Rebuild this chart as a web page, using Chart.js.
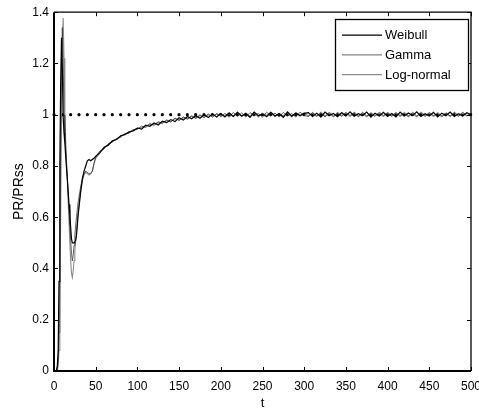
<!DOCTYPE html>
<html><head><meta charset="utf-8">
<script src="https://cdn.jsdelivr.net/npm/chart.js@4.4.1/dist/chart.umd.min.js"></script>
<style>html,body{margin:0;padding:0;background:#fff;} #wrap{width:479px;height:415px;position:relative;}</style>
</head><body><div id="wrap"><canvas id="c" width="479" height="415"></canvas></div>
<script>
const tValues = [0,1,2,3,4,5,6,7,8,9,10,11,12,13,14,15,16,17,18,19,20,21,22,23,24,25,26,27,28,29,30,
  32,34,36,38,40,42,44,46,48,50,
  55,60,65,70,75,80,85,90,95,100,105,110,115,120,125,130,135,140,145,150,155,160,165,170,175,180,185,190,195,200,
  205,210,215,220,225,230,235,240,245,250,255,260,265,270,275,280,285,290,295,300,
  305,310,315,320,325,330,335,340,345,350,355,360,365,370,375,380,385,390,395,400,
  405,410,415,420,425,430,435,440,445,450,455,460,465,470,475,480,485,490,495,500];

const weibull = [0,0,0,0.005,0.02,0.08,0.35,0.8,1.12,1.30,1.18,0.99,0.93,0.89,0.84,0.79,0.75,0.70,0.65,0.61,0.56,0.515,0.50,0.50,0.50,0.505,0.51,0.53,0.57,0.61,0.64,
  0.70,0.75,0.78,0.80,0.82,0.825,0.82,0.825,0.83,0.838,
  0.852,0.872,0.881,0.898,0.903,0.918,0.922,0.933,0.937,0.948,0.944,0.959,0.955,0.968,0.96,0.975,0.969,0.981,0.973,0.988,0.979,0.993,0.984,0.996,0.986,1.0,0.989,1.003,0.991,1.005,
  0.991,1.007,0.993,1.009,0.994,1.005,0.99,1.01,0.996,1.003,0.992,1.009,0.995,1.004,0.99,1.011,0.994,1.007,0.997,1.005,
  1.008,0.993,1.006,0.991,1.01,0.997,1.005,0.992,1.008,0.995,1.011,0.994,1.004,0.997,1.01,0.991,1.006,0.995,1.009,0.993,
  1.005,0.991,1.01,0.995,1.007,0.997,1.011,0.993,1.004,0.995,1.009,0.991,1.006,0.997,1.01,0.993,1.004,0.995,1.008,1.0];

const gamma = [0,0,0,0,0.01,0.04,0.15,0.45,0.88,1.22,1.34,1.2,1.0,0.93,0.87,0.81,0.75,0.69,0.63,0.57,0.51,0.46,0.43,0.45,0.49,0.53,0.57,0.6,0.63,0.66,0.68,
  0.72,0.75,0.77,0.78,0.775,0.77,0.77,0.78,0.81,0.835,
  0.858,0.866,0.887,0.893,0.907,0.912,0.927,0.928,0.942,0.943,0.956,0.95,0.966,0.958,0.973,0.965,0.98,0.971,0.987,0.977,0.992,0.982,0.996,0.985,1.0,0.988,1.003,0.99,1.005,0.993,
  1.005,0.99,1.009,0.993,1.007,0.991,1.008,0.997,1.005,0.99,1.01,0.995,1.006,0.991,1.009,0.995,1.004,0.991,1.01,0.997,
  0.993,1.009,0.995,1.007,0.991,1.01,0.995,1.006,0.993,1.009,0.997,1.007,0.991,1.01,0.995,1.004,0.993,1.01,0.997,1.006,
  0.993,1.008,0.997,1.005,0.991,1.01,0.995,1.007,0.993,1.009,0.997,1.005,0.991,1.008,0.995,1.007,0.993,1.01,0.997,1.003];

const logNormal = [0,0,0,0,0,0.02,0.08,0.25,0.6,1.0,1.28,1.377,1.22,1.0,0.9,0.82,0.74,0.66,0.58,0.5,0.43,0.38,0.365,0.39,0.43,0.47,0.51,0.55,0.59,0.62,0.65,
  0.70,0.74,0.765,0.775,0.77,0.765,0.77,0.78,0.81,0.83,
  0.85,0.874,0.883,0.896,0.905,0.917,0.924,0.931,0.939,0.947,0.95,0.956,0.962,0.963,0.969,0.97,0.977,0.974,0.984,0.98,0.988,0.985,0.994,0.988,0.997,0.991,1.0,0.994,1.002,0.996,
  0.997,1.005,0.993,1.01,0.995,1.007,0.993,1.009,0.991,1.006,0.997,1.01,0.993,1.005,0.995,1.009,0.991,1.007,0.995,1.008,
  0.995,1.007,0.993,1.01,0.995,1.005,0.991,1.009,0.997,1.007,0.993,1.01,0.995,1.006,0.991,1.008,0.997,1.005,0.993,1.009,
  0.997,1.007,0.993,1.009,0.995,1.005,0.991,1.01,0.997,1.006,0.993,1.008,0.995,1.005,0.993,1.01,0.997,1.006,0.995,1.004];

const seriesNames = ['Weibull', 'Gamma', 'Log-normal'];
const xTicks = [0,50,100,150,200,250,300,350,400,450,500];
const yTicks = [0,0.2,0.4,0.6,0.8,1,1.2,1.4];
const refLine = [{x:0,y:1},{x:500,y:1}];

const FONT = "'Liberation Sans', Arial, sans-serif";
Chart.defaults.font.family = FONT;
Chart.defaults.color = '#000';

const pts = arr => tValues.map((t,i)=>({x:t,y:arr[i]}));
const styles = [
  {color:'#000000', width:1.2},
  {color:'#3a3a3a', width:0.8},
  {color:'#8c8c8c', width:1.1}
];

const framePlugin = {
  id:'frame',
  afterDraw(chart){
    const ctx = chart.ctx;
    const {left,right,top,bottom} = chart.chartArea;
    const xs = chart.scales.x, ys = chart.scales.y;
    ctx.save();
    ctx.strokeStyle = '#000';
    ctx.lineWidth = 1;
    ctx.beginPath();
    xTicks.forEach(v=>{
      const px = Math.round(xs.getPixelForValue(v))+0.5;
      ctx.moveTo(px,bottom); ctx.lineTo(px,bottom-4);
      ctx.moveTo(px,top); ctx.lineTo(px,top+4);
    });
    yTicks.forEach(v=>{
      const py = Math.round(ys.getPixelForValue(v))+0.5;
      ctx.moveTo(left,py); ctx.lineTo(left+4,py);
      ctx.moveTo(right,py); ctx.lineTo(right-4,py);
    });
    ctx.stroke();
    ctx.lineWidth = 1.3;
    ctx.beginPath();
    ctx.moveTo(left,top); ctx.lineTo(right,top); ctx.lineTo(right,bottom);
    ctx.stroke();
    ctx.lineWidth = 2;
    ctx.beginPath();
    ctx.moveTo(left,top); ctx.lineTo(left,bottom); ctx.lineTo(right,bottom);
    ctx.stroke();

    // legend
    const bx = right - 136, by = top + 7, bw = 133, bh = 71;
    ctx.fillStyle = '#fff';
    ctx.fillRect(bx,by,bw,bh);
    ctx.lineWidth = 1.3;
    ctx.strokeStyle = '#000';
    ctx.strokeRect(Math.round(bx)+0.5, Math.round(by)+0.5, bw, bh);
    ctx.font = '13px ' + FONT;
    ctx.textBaseline = 'middle';
    ctx.textAlign = 'left';
    seriesNames.forEach((name,i)=>{
      const y = by + 16 + i*19.7;
      ctx.strokeStyle = styles[i].color;
      ctx.lineWidth = styles[i].width;
      ctx.beginPath(); ctx.moveTo(bx+7,y); ctx.lineTo(bx+47,y); ctx.stroke();
      ctx.fillStyle = '#000';
      ctx.fillText(name, bx+50, y+0.5);
    });
    ctx.restore();
  }
};

new Chart(document.getElementById('c'), {
  type:'line',
  data:{
    datasets:[
      ...seriesNames.map((name,i)=>({
        label:name,
        data:pts([weibull,gamma,logNormal][i]),
        borderColor:styles[i].color,
        borderWidth:styles[i].width,
        pointRadius:0,
        fill:false,
        tension:0,
        order:i+1
      })),
      {
        label:'ref',
        data:refLine,
        borderColor:'#000',
        borderWidth:3.2,
        borderDash:[0,8.333],
        borderCapStyle:'round',
        pointRadius:0,
        fill:false,
        order:10,
        clip:false
      }
    ]
  },
  options:{
    responsive:false,
    animation:false,
    devicePixelRatio:1,
    layout:{padding:{top:10,right:8,left:0,bottom:0}},
    plugins:{legend:{display:false},tooltip:{enabled:false}},
    scales:{
      x:{
        type:'linear', min:0, max:500,
        grid:{display:false, drawTicks:false, tickLength:0},
        border:{display:false},
        afterBuildTicks:s=>{s.ticks = xTicks.map(v=>({value:v}));},
        ticks:{font:{size:12}, padding:8, maxRotation:0, autoSkip:false, callback:v=>String(v)},
        title:{display:true, text:'t', font:{size:13}, padding:{top:0,bottom:4}},
        afterFit:s=>{s.height = 44; s.paddingLeft = 0; s.paddingRight = 0;}
      },
      y:{
        type:'linear', min:0, max:1.4,
        grid:{display:false, drawTicks:false, tickLength:0},
        border:{display:false},
        afterBuildTicks:s=>{s.ticks = yTicks.map(v=>({value:v}));},
        ticks:{font:{size:12}, padding:5, autoSkip:false, callback:v=>String(v)},
        title:{display:true, text:'PR/PRss', font:{size:14}, padding:{top:11,bottom:0}},
        afterFit:s=>{s.width = 54;}
      }
    }
  },
  plugins:[framePlugin]
});
</script>
</body></html>
